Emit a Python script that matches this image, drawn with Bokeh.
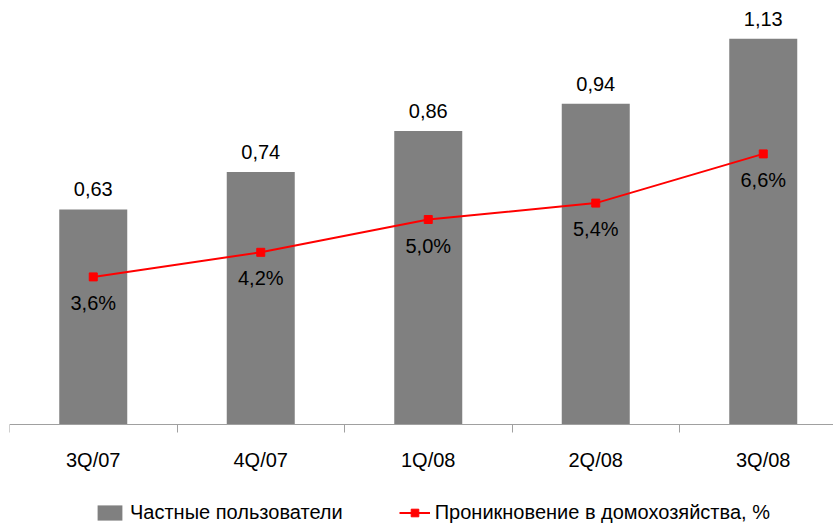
from bokeh.plotting import figure
from bokeh.models import (ColumnDataSource, Range1d, LinearAxis, FixedTicker,
                          Legend, LegendItem)
from bokeh.core.properties import value
from bokeh.embed import file_html
from bokeh.resources import INLINE

categories = ["3Q/07", "4Q/07", "1Q/08", "2Q/08", "3Q/08"]
users = [0.63, 0.74, 0.86, 0.94, 1.13]
penetration = [3.6, 4.2, 5.0, 5.4, 6.6]

FONT_NAME = "Liberation Sans"
FONT = value(FONT_NAME)
FS = "20px"

xs = [i + 0.5 for i in range(len(categories))]
src = ColumnDataSource(dict(
    x=xs,
    users=users,
    pen=penetration,
    ulab=[f"{v:.2f}".replace(".", ",") for v in users],
    plab=[f"{v:.1f}".replace(".", ",") + "%" for v in penetration],
))

H = 524
BASE = 424  # pixel row of the zero line
p = figure(width=833, height=H, output_backend="svg", toolbar_location=None,
           x_range=Range1d(0, 824 / 167.5),
           y_range=Range1d(-(H - BASE) / 341.3, BASE / 341.3),
           min_border_left=9, min_border_right=0, min_border_top=0,
           min_border_bottom=0, x_axis_location=None, y_axis_location=None)
p.outline_line_color = None
p.xgrid.visible = False
p.ygrid.visible = False
p.extra_y_ranges = {"pct": Range1d(-(H - BASE) / 41.0, BASE / 41.0)}

bars = p.vbar(x="x", top="users", width=68 / 167.5, source=src,
              fill_color="#808080", line_color=None)
line = p.line(x="x", y="pen", source=src, y_range_name="pct",
              line_color="#FF0000", line_width=2)
marks = p.scatter(x="x", y="pen", source=src, y_range_name="pct",
                  marker="square", size=8, fill_color="#FF0000",
                  line_color="#FF0000")

p.text(x="x", y="users", text="ulab", source=src, text_font=FONT,
       text_font_size=FS, text_align="center", text_baseline="alphabetic",
       y_offset=-20, text_color="#000000")
p.text(x="x", y="pen", text="plab", source=src, y_range_name="pct",
       text_font=FONT, text_font_size=FS, text_align="center",
       text_baseline="alphabetic", y_offset=26, text_color="#000000")

xaxis = LinearAxis(
    fixed_location=0,
    ticker=FixedTicker(ticks=xs, minor_ticks=[0, 1, 2, 3, 4, 5]),
    major_label_overrides={x: c for x, c in zip(xs, categories)},
    axis_line_color="#A0A0A0", axis_line_width=1,
    major_tick_line_color=None, major_tick_out=0, major_tick_in=0,
    minor_tick_line_color="#A0A0A0", minor_tick_out=8, minor_tick_in=0,
    major_label_text_font=FONT_NAME, major_label_text_font_size=FS,
    major_label_text_color="#000000", major_label_standoff=16,
)
p.add_layout(xaxis, "below")

legend = Legend(items=[
    LegendItem(label="Частные пользователи", renderers=[bars]),
    LegendItem(label="Проникновение в домохозяйства, %", renderers=[line, marks]),
], orientation="horizontal", location=(85, 0),
    label_text_font=FONT_NAME, label_text_font_size=FS, label_text_color="#000000",
    glyph_width=31, glyph_height=19, label_standoff=5, spacing=56,
    padding=0, margin=0, border_line_color=None, background_fill_alpha=0)
p.add_layout(legend, "center")

open("out.html", "w").write(file_html(p, INLINE))
